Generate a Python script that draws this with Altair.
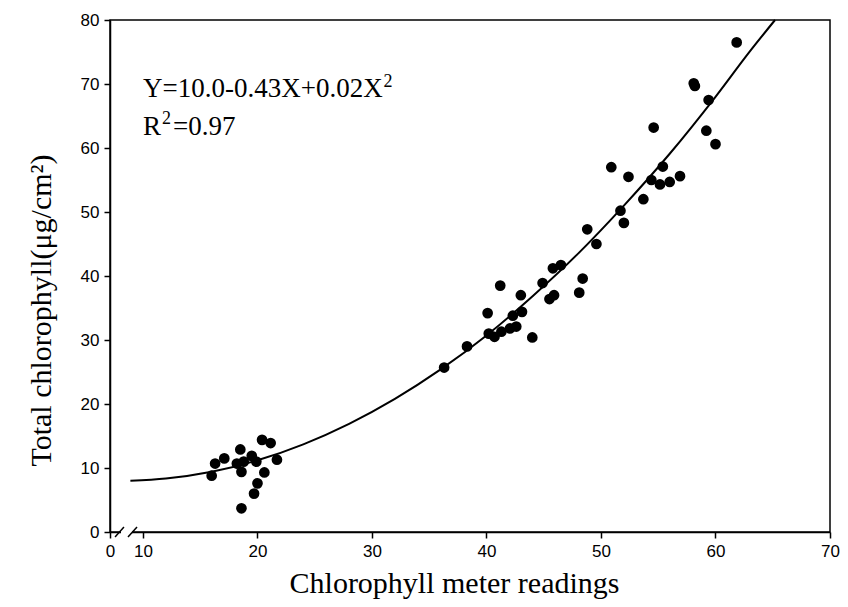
import altair as alt
import pandas as pd

# ---- data ----
meter = [16.0, 16.3, 17.1, 18.2, 18.5, 18.6, 18.8, 19.5, 19.9, 20.4, 21.15, 21.7,
         20.6, 20.0, 19.7, 18.6,
         36.3, 38.3, 40.1, 41.2, 40.2, 40.7, 41.3, 42.05, 42.6, 42.3, 43.0, 43.1,
         44.0, 44.9, 45.9, 45.5, 45.8, 46.5, 48.4, 48.1, 49.6,
         48.8, 51.7, 52.0, 50.9, 52.4, 53.7, 55.4, 54.4, 55.15, 56.0, 56.9,
         54.6, 58.1, 58.2, 59.4, 59.2, 60.0, 61.85]
chl = [8.8, 10.7, 11.5, 10.7, 12.9, 9.4, 11.0, 11.9, 11.0, 14.4, 13.9, 11.3,
       9.3, 7.6, 6.0, 3.7,
       25.7, 29.0, 34.2, 38.5, 31.0, 30.5, 31.3, 31.8, 32.1, 33.8, 37.0, 34.4,
       30.4, 38.9, 37.0, 36.4, 41.2, 41.7, 39.6, 37.4, 45.0,
       47.3, 50.2, 48.3, 57.0, 55.5, 52.0, 57.1, 55.0, 54.3, 54.7, 55.6,
       63.2, 70.1, 69.7, 67.5, 62.7, 60.6, 76.5]

curve_x = [8.9, 12, 16, 20, 24, 28, 32, 36, 40, 44, 48, 52, 56, 60, 63, 65.2]
curve_y = [8.0, 8.35, 9.4, 11.2, 13.7, 16.9, 20.8, 25.4, 30.7, 36.8, 43.5, 51.0,
           59.1, 68.0, 75.1, 80.0]

X0 = 7.12  # position of the broken-axis "0"
x_ticks = [X0, 10, 20, 30, 40, 50, 60, 70]
y_ticks = [0, 10, 20, 30, 40, 50, 60, 70, 80]

# annotation pieces (main text and raised superscripts)
eq_text = ["Y=10.0-0.43X+0.02X", "R", "=0.97"]
eq_x = [10.0, 10.0, 12.62]
eq_y = [67.9, 62.0, 62.0]
sup_text = ["2", "2"]
sup_x = [31.0, 11.66]
sup_y = [69.5, 63.7]

brk_x = [8.08]
brk_x2 = [9.04]
slash_x = [7.56, 8.69]
slash_x2 = [8.34, 9.48]
slash_y = [-0.78, -0.78]
slash_y2 = [0.78, 0.78]

pts = pd.DataFrame({"meter": meter, "chl": chl})
fit = pd.DataFrame({"meter": curve_x, "chl": curve_y})
eq = pd.DataFrame({"meter": eq_x, "chl": eq_y, "t": eq_text})
sup = pd.DataFrame({"meter": sup_x, "chl": sup_y, "t": sup_text})
brk = pd.DataFrame({"meter": brk_x, "meter2": brk_x2, "chl": [0]})
sl = pd.DataFrame({"meter": slash_x, "meter2": slash_x2, "chl": slash_y, "chl2": slash_y2})

xscale = alt.Scale(domain=[X0, 70], nice=False, zero=False)
yscale = alt.Scale(domain=[0, 80], nice=False, zero=False)

xaxis = alt.Axis(values=x_ticks, labelExpr="datum.value < 9 ? '0' : datum.label",
                 title="Chlorophyll meter readings", titleX=344, titleY=60,
                 titleAlign="center", titleBaseline="alphabetic",
                 labelFlush=False, labelOverlap=False, labelPadding=5)
yaxis = alt.Axis(values=y_ticks, title="Total chlorophyll(μg/cm²)",
                 titleX=-60, titleY=290, titleAngle=270, titleAlign="center",
                 titleBaseline="alphabetic", labelFlush=False, labelOverlap=False,
                 labelPadding=5)

points = alt.Chart(pts).mark_circle(size=115, color="black", opacity=1).encode(
    x=alt.X("meter:Q", scale=xscale, axis=xaxis),
    y=alt.Y("chl:Q", scale=yscale, axis=yaxis),
)
curve = alt.Chart(fit).mark_line(color="black", strokeWidth=2, interpolate="monotone").encode(
    x="meter:Q", y="chl:Q"
)
gap = alt.Chart(brk).mark_rule(color="white", strokeWidth=5).encode(
    x="meter:Q", x2="meter2", y="chl:Q"
)
slashes = alt.Chart(sl).mark_rule(color="black", strokeWidth=1.5).encode(
    x="meter:Q", x2="meter2", y="chl:Q", y2="chl2"
)
texts = alt.Chart(eq).mark_text(align="left", baseline="alphabetic",
                                font="Liberation Serif", fontSize=27, color="black").encode(
    x="meter:Q", y="chl:Q", text="t:N"
)
sups = alt.Chart(sup).mark_text(align="left", baseline="alphabetic",
                                font="Liberation Serif", fontSize=18, color="black").encode(
    x="meter:Q", y="chl:Q", text="t:N"
)

chart = alt.layer(points, curve, gap, slashes, texts, sups).properties(
    width=720, height=512,
    autosize=alt.AutoSizeParams(type="none"),
    padding={"left": 102, "top": 12, "right": 10, "bottom": 67},
    background="white",
).configure_view(stroke="black", strokeWidth=1.5).configure_axis(
    grid=False, domainColor="black", domainWidth=1.5, tickColor="black",
    tickWidth=1.5, tickSize=6, labelFont="Liberation Sans", labelFontSize=17,
    labelColor="black", titleFont="Liberation Serif", titleFontSize=30,
    titleFontWeight="normal", titleColor="black",
)

chart.save("out.html", embed_options={"renderer": "svg", "actions": False})
